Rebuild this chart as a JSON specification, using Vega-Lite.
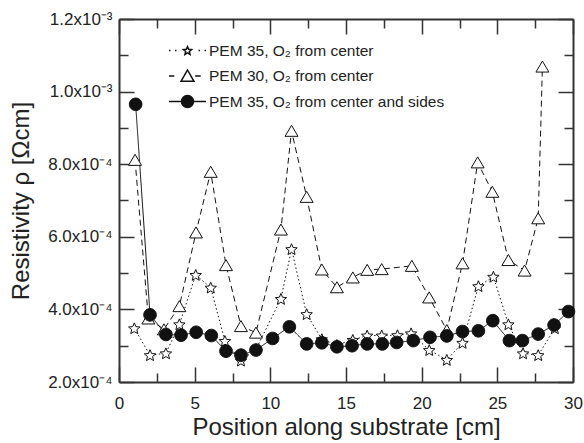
{
  "$schema": "https://vega.github.io/schema/vega-lite/v6.json",
  "width": 454,
  "height": 363,
  "autosize": {"type": "none"},
  "padding": {"left": 119, "top": 19, "right": 11, "bottom": 61},
  "background": "white",
  "config": {
    "view": {"stroke": null},
    "axis": {
      "grid": false,
      "labelFont": "Liberation Sans",
      "labelFontSize": 17,
      "labelColor": "#222",
      "titleFont": "Liberation Sans",
      "titleFontSize": 24,
      "titleFontWeight": "normal",
      "titleColor": "#222",
      "tickColor": "#333",
      "tickWidth": 1.5,
      "domainColor": "#333",
      "domainWidth": 2
    },
    "legend": {
      "labelFont": "Liberation Sans",
      "labelFontSize": 15.5,
      "labelColor": "#222",
      "labelLimit": 0
    }
  },
  "data": {
    "values": [
      {"series": "PEM 35, O₂ from center", "x": 1.01, "y": 0.000348},
      {"series": "PEM 35, O₂ from center", "x": 2.05, "y": 0.000274},
      {"series": "PEM 35, O₂ from center", "x": 3.1, "y": 0.000279},
      {"series": "PEM 35, O₂ from center", "x": 3.99, "y": 0.000359},
      {"series": "PEM 35, O₂ from center", "x": 5.07, "y": 0.000495},
      {"series": "PEM 35, O₂ from center", "x": 6.06, "y": 0.00046},
      {"series": "PEM 35, O₂ from center", "x": 7.0, "y": 0.000313},
      {"series": "PEM 35, O₂ from center", "x": 8.06, "y": 0.000259},
      {"series": "PEM 35, O₂ from center", "x": 9.05, "y": 0.00029},
      {"series": "PEM 35, O₂ from center", "x": 10.7, "y": 0.000429},
      {"series": "PEM 35, O₂ from center", "x": 11.4, "y": 0.000566},
      {"series": "PEM 35, O₂ from center", "x": 12.4, "y": 0.000387},
      {"series": "PEM 35, O₂ from center", "x": 13.4, "y": 0.000318},
      {"series": "PEM 35, O₂ from center", "x": 14.4, "y": 0.000302},
      {"series": "PEM 35, O₂ from center", "x": 15.45, "y": 0.000316},
      {"series": "PEM 35, O₂ from center", "x": 16.4, "y": 0.000328},
      {"series": "PEM 35, O₂ from center", "x": 17.36, "y": 0.000328},
      {"series": "PEM 35, O₂ from center", "x": 18.4, "y": 0.000329},
      {"series": "PEM 35, O₂ from center", "x": 19.3, "y": 0.000334},
      {"series": "PEM 35, O₂ from center", "x": 20.5, "y": 0.000288},
      {"series": "PEM 35, O₂ from center", "x": 21.66, "y": 0.000261},
      {"series": "PEM 35, O₂ from center", "x": 22.7, "y": 0.000308},
      {"series": "PEM 35, O₂ from center", "x": 23.75, "y": 0.000464},
      {"series": "PEM 35, O₂ from center", "x": 24.74, "y": 0.00049},
      {"series": "PEM 35, O₂ from center", "x": 25.73, "y": 0.000359},
      {"series": "PEM 35, O₂ from center", "x": 26.7, "y": 0.000279},
      {"series": "PEM 35, O₂ from center", "x": 27.7, "y": 0.000274},
      {"series": "PEM 35, O₂ from center", "x": 28.8, "y": 0.000348},
      {"series": "PEM 30, O₂ from center", "x": 1.06, "y": 0.000812},
      {"series": "PEM 30, O₂ from center", "x": 1.94, "y": 0.000375},
      {"series": "PEM 30, O₂ from center", "x": 2.97, "y": 0.000345},
      {"series": "PEM 30, O₂ from center", "x": 3.99, "y": 0.000409},
      {"series": "PEM 30, O₂ from center", "x": 5.09, "y": 0.000612},
      {"series": "PEM 30, O₂ from center", "x": 6.06, "y": 0.000779},
      {"series": "PEM 30, O₂ from center", "x": 7.07, "y": 0.000522},
      {"series": "PEM 30, O₂ from center", "x": 8.06, "y": 0.000354},
      {"series": "PEM 30, O₂ from center", "x": 9.05, "y": 0.000336},
      {"series": "PEM 30, O₂ from center", "x": 10.7, "y": 0.00062},
      {"series": "PEM 30, O₂ from center", "x": 11.4, "y": 0.000892},
      {"series": "PEM 30, O₂ from center", "x": 12.4, "y": 0.00071},
      {"series": "PEM 30, O₂ from center", "x": 13.4, "y": 0.00051},
      {"series": "PEM 30, O₂ from center", "x": 14.4, "y": 0.000461},
      {"series": "PEM 30, O₂ from center", "x": 15.45, "y": 0.000488},
      {"series": "PEM 30, O₂ from center", "x": 16.4, "y": 0.000509},
      {"series": "PEM 30, O₂ from center", "x": 17.36, "y": 0.000511},
      {"series": "PEM 30, O₂ from center", "x": 19.35, "y": 0.00052},
      {"series": "PEM 30, O₂ from center", "x": 20.5, "y": 0.000433},
      {"series": "PEM 30, O₂ from center", "x": 21.66, "y": 0.000343},
      {"series": "PEM 30, O₂ from center", "x": 22.7, "y": 0.000527},
      {"series": "PEM 30, O₂ from center", "x": 23.7, "y": 0.000805},
      {"series": "PEM 30, O₂ from center", "x": 24.67, "y": 0.000724},
      {"series": "PEM 30, O₂ from center", "x": 25.73, "y": 0.000536},
      {"series": "PEM 30, O₂ from center", "x": 26.8, "y": 0.000507},
      {"series": "PEM 30, O₂ from center", "x": 27.7, "y": 0.000651},
      {"series": "PEM 30, O₂ from center", "x": 27.98, "y": 0.001069},
      {"series": "PEM 35, O₂ from center and sides", "x": 1.1, "y": 0.000965},
      {"series": "PEM 35, O₂ from center and sides", "x": 2.05, "y": 0.000385},
      {"series": "PEM 35, O₂ from center and sides", "x": 3.1, "y": 0.000331},
      {"series": "PEM 35, O₂ from center and sides", "x": 4.1, "y": 0.000329},
      {"series": "PEM 35, O₂ from center and sides", "x": 5.1, "y": 0.000337},
      {"series": "PEM 35, O₂ from center and sides", "x": 6.1, "y": 0.000328},
      {"series": "PEM 35, O₂ from center and sides", "x": 7.07, "y": 0.000285},
      {"series": "PEM 35, O₂ from center and sides", "x": 8.06, "y": 0.000274},
      {"series": "PEM 35, O₂ from center and sides", "x": 9.05, "y": 0.000288},
      {"series": "PEM 35, O₂ from center and sides", "x": 10.15, "y": 0.00032},
      {"series": "PEM 35, O₂ from center and sides", "x": 11.26, "y": 0.000352},
      {"series": "PEM 35, O₂ from center and sides", "x": 12.4, "y": 0.000305},
      {"series": "PEM 35, O₂ from center and sides", "x": 13.4, "y": 0.000308},
      {"series": "PEM 35, O₂ from center and sides", "x": 14.4, "y": 0.000297},
      {"series": "PEM 35, O₂ from center and sides", "x": 15.4, "y": 0.0003},
      {"series": "PEM 35, O₂ from center and sides", "x": 16.4, "y": 0.000305},
      {"series": "PEM 35, O₂ from center and sides", "x": 17.4, "y": 0.000305},
      {"series": "PEM 35, O₂ from center and sides", "x": 18.35, "y": 0.000309},
      {"series": "PEM 35, O₂ from center and sides", "x": 19.45, "y": 0.000314},
      {"series": "PEM 35, O₂ from center and sides", "x": 20.55, "y": 0.000323},
      {"series": "PEM 35, O₂ from center and sides", "x": 21.66, "y": 0.000327},
      {"series": "PEM 35, O₂ from center and sides", "x": 22.7, "y": 0.000339},
      {"series": "PEM 35, O₂ from center and sides", "x": 23.75, "y": 0.000341},
      {"series": "PEM 35, O₂ from center and sides", "x": 24.7, "y": 0.000369},
      {"series": "PEM 35, O₂ from center and sides", "x": 25.8, "y": 0.000314},
      {"series": "PEM 35, O₂ from center and sides", "x": 26.66, "y": 0.000314},
      {"series": "PEM 35, O₂ from center and sides", "x": 27.7, "y": 0.000332},
      {"series": "PEM 35, O₂ from center and sides", "x": 28.75, "y": 0.000357},
      {"series": "PEM 35, O₂ from center and sides", "x": 29.7, "y": 0.000394}
    ]
  },
  "layer": [
    {
      "mark": {"type": "line", "color": "#111", "strokeWidth": 1},
      "encoding": {
        "x": {
          "field": "x", "type": "quantitative",
          "scale": {"domain": [0, 30], "nice": false, "zero": false},
          "axis": {
            "orient": "bottom",
            "values": [0, 5, 10, 15, 20, 25, 30],
            "ticks": false,
            "labelPadding": 13,
            "labelFlush": false,
            "format": "d",
            "title": "Position along substrate [cm]",
            "titlePadding": 4,
            "domain": true
          }
        },
        "y": {
          "field": "y", "type": "quantitative",
          "scale": {"domain": [0.0002, 0.0012], "nice": false, "zero": false},
          "axis": {
            "orient": "left",
            "values": [0.0002, 0.0004, 0.0006, 0.0008, 0.001, 0.0012],
            "ticks": false,
            "labelPadding": 7,
            "labelFlush": false,
            "labelExpr": "datum.value >= 0.00095 ? format(datum.value * 1000, '.1f') + 'x10⁻³' : format(datum.value * 10000, '.1f') + 'x10⁻⁴'",
            "title": "Resistivity ρ [Ωcm]",
            "titlePadding": 14,
            "domain": true
          }
        },
        "strokeDash": {
          "field": "series", "type": "nominal",
          "scale": {
            "domain": ["PEM 35, O₂ from center", "PEM 30, O₂ from center", "PEM 35, O₂ from center and sides"],
            "range": [[1.5, 2.5], [6, 4], [1, 0]]
          },
          "legend": null
        }
      }
    },
    {
      "mark": {"type": "point", "filled": true, "stroke": "#111", "strokeWidth": 1, "opacity": 1, "size": 144},
      "encoding": {
        "x": {"field": "x", "type": "quantitative", "axis": null},
        "y": {"field": "y", "type": "quantitative", "axis": null},
        "shape": {
          "field": "series", "type": "nominal",
          "scale": {
            "domain": ["PEM 35, O₂ from center", "PEM 30, O₂ from center", "PEM 35, O₂ from center and sides"],
            "range": [
              "M0,-0.905L0.265,-0.269L0.951,-0.214L0.428,0.234L0.588,0.904L0,0.545L-0.588,0.904L-0.428,0.234L-0.951,-0.214L-0.265,-0.269Z",
              "M0,-0.92L1.08,0.92L-1.08,0.92Z",
              "M1.05,0A1.05,1.05,0,1,1,-1.05,0A1.05,1.05,0,1,1,1.05,0Z"
            ]
          },
          "legend": null
        },
        "fill": {
          "field": "series", "type": "nominal",
          "scale": {
            "domain": ["PEM 35, O₂ from center", "PEM 30, O₂ from center", "PEM 35, O₂ from center and sides"],
            "range": ["white", "white", "#111"]
          },
          "legend": null
        }
      }
    },
    {
      "transform": [{"filter": "datum.x > 1000"}],
      "mark": {"type": "point", "filled": true, "stroke": "#111", "strokeWidth": 1, "opacity": 1},
      "encoding": {
        "shape": {
          "field": "series", "type": "nominal",
          "scale": {
            "domain": ["PEM 35, O₂ from center", "PEM 30, O₂ from center", "PEM 35, O₂ from center and sides"],
            "range": [
              "M-1.54,0H-1.42M-1.04,0H-0.92M0.92,0H1.04M1.42,0H1.54M0,-0.326L0.095,-0.097L0.342,-0.077L0.154,0.084L0.212,0.325L0,0.196L-0.212,0.325L-0.154,0.084L-0.342,-0.077L-0.095,-0.097Z",
              "M-1.54,0H-1.1M0.64,0H1.1M0,-0.5L0.54,0.44L-0.54,0.44Z",
              "M-1.54,0H1.54M0.5,0A0.5,0.5,0,1,1,-0.5,0A0.5,0.5,0,1,1,0.5,0Z"
            ]
          },
          "legend": {
            "title": null, "orient": "none", "legendX": 55.5, "legendY": 18.5,
            "symbolSize": 576, "rowPadding": 3.5, "labelOffset": 8.5, "padding": 0,
            "encode": {"symbols": {"update": {"stroke": {"value": "#111"}, "strokeWidth": {"value": 1}, "opacity": {"value": 1}}}}
          }
        },
        "fill": {
          "field": "series", "type": "nominal",
          "scale": {
            "domain": ["PEM 35, O₂ from center", "PEM 30, O₂ from center", "PEM 35, O₂ from center and sides"],
            "range": ["white", "white", "#111"]
          },
          "legend": {
            "title": null, "orient": "none", "legendX": 55.5, "legendY": 18.5,
            "symbolSize": 576, "rowPadding": 3.5, "labelOffset": 8.5, "padding": 0,
            "encode": {"symbols": {"update": {"stroke": {"value": "#111"}, "strokeWidth": {"value": 1}, "opacity": {"value": 1}}}}
          }
        }
      }
    },
    {
      "transform": [{"filter": "datum.x > 1000"}],
      "mark": {"type": "point"},
      "encoding": {
        "x": {"field": "x", "type": "quantitative", "axis": {"orient": "bottom", "values": [0, 5, 10, 15, 20, 25, 30], "offset": -15, "tickSize": 15, "labels": false, "domain": false, "title": null}},
        "y": {"field": "y", "type": "quantitative", "axis": {"orient": "left", "values": [0.0002, 0.0004, 0.0006, 0.0008, 0.001, 0.0012], "offset": -15, "tickSize": 15, "labels": false, "domain": false, "title": null}}
      }
    },
    {
      "transform": [{"filter": "datum.x > 1000"}],
      "mark": {"type": "point"},
      "encoding": {
        "x": {"field": "x", "type": "quantitative", "axis": {"orient": "bottom", "values": [2.5, 7.5, 12.5, 17.5, 22.5, 27.5], "offset": -9, "tickSize": 9, "labels": false, "domain": false, "title": null}},
        "y": {"field": "y", "type": "quantitative", "axis": {"orient": "left", "values": [0.0003, 0.0005, 0.0007, 0.0009, 0.0011], "offset": -9, "tickSize": 9, "labels": false, "domain": false, "title": null}}
      }
    },
    {
      "transform": [{"filter": "datum.x > 1000"}],
      "mark": {"type": "point"},
      "encoding": {
        "x": {"field": "x", "type": "quantitative", "axis": {"orient": "top", "values": [0, 30], "ticks": false, "labels": false, "domain": true, "title": null}},
        "y": {"field": "y", "type": "quantitative", "axis": {"orient": "right", "values": [0.0002, 0.0012], "ticks": false, "labels": false, "domain": true, "title": null}}
      }
    },
    {
      "transform": [{"filter": "datum.x > 1000"}],
      "mark": {"type": "point"},
      "encoding": {
        "x": {"field": "x", "type": "quantitative", "axis": {"orient": "top", "values": [0, 5, 10, 15, 20, 25, 30], "offset": -15, "tickSize": 15, "labels": false, "domain": false, "title": null}},
        "y": {"field": "y", "type": "quantitative", "axis": {"orient": "right", "values": [0.0002, 0.0004, 0.0006, 0.0008, 0.001, 0.0012], "offset": -15, "tickSize": 15, "labels": false, "domain": false, "title": null}}
      }
    },
    {
      "transform": [{"filter": "datum.x > 1000"}],
      "mark": {"type": "point"},
      "encoding": {
        "x": {"field": "x", "type": "quantitative", "axis": {"orient": "top", "values": [2.5, 7.5, 12.5, 17.5, 22.5, 27.5], "offset": -9, "tickSize": 9, "labels": false, "domain": false, "title": null}},
        "y": {"field": "y", "type": "quantitative", "axis": {"orient": "right", "values": [0.0003, 0.0005, 0.0007, 0.0009, 0.0011], "offset": -9, "tickSize": 9, "labels": false, "domain": false, "title": null}}
      }
    }
  ],
  "resolve": {
    "scale": {"shape": "independent", "fill": "independent"},
    "axis": {"x": "independent", "y": "independent"}
  }
}
